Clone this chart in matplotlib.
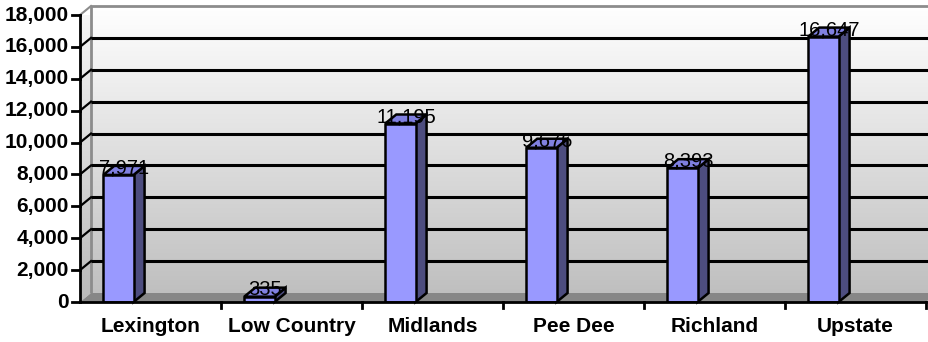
import numpy as np
import matplotlib
matplotlib.use("Agg")
import matplotlib.pyplot as plt
from matplotlib.patches import Polygon

regions = ["Lexington", "Low Country", "Midlands", "Pee Dee", "Richland", "Upstate"]
counts = [7971, 335, 11195, 9676, 8393, 16647]
y_ticks = [0, 2000, 4000, 6000, 8000, 10000, 12000, 14000, 16000, 18000]

W, H, DPI = 929, 342, 100
fig = plt.figure(figsize=(W / DPI, H / DPI), dpi=DPI)
fig.patch.set_facecolor("white")

# front plane of the 3D box, in pixels
left_px, right_px, base_px, top_px = 80, 926, 302, 15
ax = fig.add_axes([left_px / W, (H - base_px) / H,
                   (right_px - left_px) / W, (base_px - top_px) / H])
ax.set_xlim(0, len(regions))
ax.set_ylim(0, 18000)
ax.axis("off")

# depth offset (right and up) expressed in data units
DEPTH_PX = (11, 9)
x_per_px = len(regions) / (right_px - left_px)
y_per_px = 18000 / (base_px - top_px)
dx = DEPTH_PX[0] * x_per_px
dy = DEPTH_PX[1] * y_per_px
x_end = len(regions) + 0.2

# gradient walls
grad = np.linspace(0.75, 1.0, 256)[:, None]
grad = np.dstack([grad, grad, grad])
back = ax.imshow(grad, extent=(dx, x_end, dy, 18000 + dy), origin="lower",
                 aspect="auto", interpolation="bilinear", zorder=0, clip_on=False)
side_poly = Polygon([(0, 0), (dx, dy), (dx, 18000 + dy), (0, 18000)], closed=True,
                    facecolor="none", edgecolor="none", transform=ax.transData)
ax.add_patch(side_poly)
side = ax.imshow(np.clip(grad * 0.97, 0, 1), extent=(0, dx, 0, 18000 + dy),
                 origin="lower", aspect="auto", interpolation="bilinear", zorder=0)
side.set_clip_path(side_poly)

# floor
ax.add_patch(Polygon([(0, 0), (len(regions), 0), (len(regions) + dx, dy), (dx, dy)],
                     closed=True, facecolor="#878787", edgecolor="none",
                     zorder=1, clip_on=False))

# wall edges
ax.plot([dx, dx, x_end], [dy, 18000 + dy, 18000 + dy], color="#8c8c8c", lw=2,
        zorder=1, clip_on=False, solid_capstyle="butt")
ax.plot([0, dx], [18000, 18000 + dy], color="#8c8c8c", lw=1.5, zorder=1, clip_on=False)

# gridlines on the back wall and across the side wall
for t in y_ticks[1:-1]:
    ax.plot([dx, x_end], [t + dy, t + dy], color="black", lw=2.2, zorder=1,
            clip_on=False, solid_capstyle="butt")
    ax.plot([0, dx], [t, t + dy], color="black", lw=1.6, zorder=1, clip_on=False)

# bars: front face, side face, top face
front_off, bar_w = 0.165, 0.215
xs = np.arange(len(regions)) + front_off
ax.bar(xs, counts, width=bar_w, align="edge", color="#9999ff", edgecolor="black",
       linewidth=1.8, zorder=4)
for x0, v in zip(xs, counts):
    x1 = x0 + bar_w
    ax.add_patch(Polygon([(x1, 0), (x1 + dx, dy), (x1 + dx, v + dy), (x1, v)],
                         closed=True, facecolor="#4d4d7f", edgecolor="black",
                         linewidth=1.8, zorder=3, clip_on=False))
    ax.add_patch(Polygon([(x0, v), (x1, v), (x1 + dx, v + dy), (x0 + dx, v + dy)],
                         closed=True, facecolor="#8080e0", edgecolor="black",
                         linewidth=1.8, zorder=3, clip_on=False))
    ax.text(x0 + bar_w / 2 + dx / 2, v + 1.5 * y_per_px, f"{v:,}",
            ha="center", va="baseline", fontsize=14.5, family="Liberation Sans",
            color="black", zorder=6, clip_on=False)

# axes lines and ticks
ax.plot([0, 0], [0, 18000], color="black", lw=2, zorder=5, clip_on=False)
ax.plot([0, len(regions)], [0, 0], color="black", lw=2, zorder=5, clip_on=False)
tick_len = 8 * x_per_px
for t in y_ticks:
    ax.plot([-tick_len, 0], [t, t], color="black", lw=2, zorder=5, clip_on=False)
    ax.text(-11 * x_per_px, t, f"{t:,}", ha="right", va="center", fontsize=15,
            fontweight="bold", family="Liberation Sans", color="black")
for i in range(1, len(regions) + 1):
    ax.plot([i, i], [0, -6 * y_per_px], color="black", lw=2, zorder=5, clip_on=False)
for i, name in enumerate(regions):
    ax.text(i + 0.5, -25 * y_per_px, name, ha="center", va="center", fontsize=15,
            fontweight="bold", family="Liberation Sans", color="black")

fig.savefig("out.png", dpi=DPI, facecolor="white")
